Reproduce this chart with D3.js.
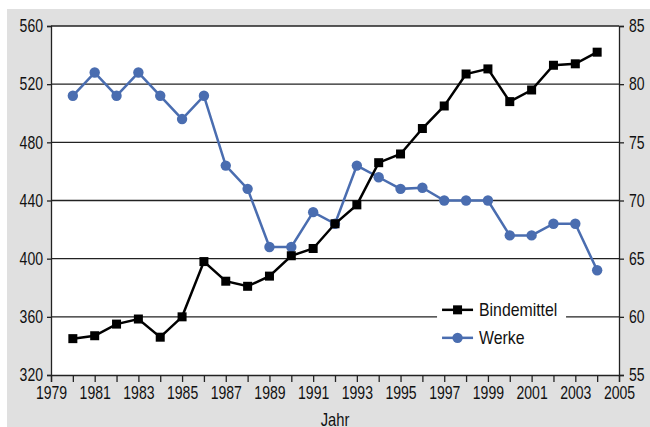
<!DOCTYPE html>
<html>
<head>
<meta charset="utf-8">
<script src="https://cdn.jsdelivr.net/npm/d3@7"></script>
<style>
  body { margin: 0; background: #fff; }
  svg { display: block; }
  svg text { font-family: "Liberation Sans", Arial, sans-serif; }
</style>
</head>
<body>
<div class="chart"></div>
<script>
// data
const years = d3.range(1980, 2005);
const bindemittel = [345, 347, 355, 358.5, 346, 360, 398, 384.5, 381, 388, 402, 407, 424, 437,
                     466, 472, 489.5, 505, 527, 530.5, 508, 516, 533, 534, 542];
const werke = [79, 81, 79, 81, 79, 77, 79, 73, 71, 66, 66, 69, 68, 73,
               72, 71, 71.1, 70, 70, 70, 67, 67, 68, 68, 64];
const leftTicks = [320, 360, 400, 440, 480, 520, 560];
const rightTicks = [55, 60, 65, 70, 75, 80, 85];
const xLabels = d3.range(1979, 2006, 2);

const W = 650, H = 427;
const margin = {top: 26, left: 51, right: 31, bottom: 52};
const width = W - margin.left - margin.right;
const height = H - margin.top - margin.bottom;

// narrow the text horizontally (condensed look)
function squeeze(sel, k) {
    sel.each(function() {
        const t = d3.select(this);
        const x0 = +t.attr('x') || 0;
        t.attr('x', x0 / k).attr('transform', `scale(${k},1)`);
    });
}

const svg = d3.select('.chart').append('svg')
    .attr('width', W)
    .attr('height', H);

// gray frame background
svg.append('rect')
    .attr('x', 7).attr('y', 9)
    .attr('width', W - 7).attr('height', H - 9)
    .attr('fill', '#e0e0e0');

const g = svg.append('g')
    .attr('transform', `translate(${margin.left},${margin.top})`);

g.append('rect')
    .attr('width', width).attr('height', height)
    .attr('fill', '#fff');

const x = d3.scaleLinear().domain([1979, 2005]).range([0, width]);
const yL = d3.scaleLinear().domain([320, 560]).range([height, 0]);
const yR = d3.scaleLinear().domain([55, 85]).range([height, 0]);

// gridlines
g.append('g')
    .selectAll('line')
    .data(leftTicks.slice(1))
    .join('line')
    .attr('x1', 0).attr('x2', width)
    .attr('y1', d => yL(d)).attr('y2', d => yL(d))
    .attr('stroke', '#222')
    .attr('stroke-width', 1.3);

// legend background (breaks the gridline)
const legend = g.append('g')
    .attr('transform', `translate(${x(1996.9)},${yL(371)})`);

legend.append('rect')
    .attr('x', -5).attr('y', -2)
    .attr('width', 129).attr('height', 52)
    .attr('fill', '#fff');

// axes
const fmt = d3.format('d');
function styleAxis(sel) {
    sel.attr('font-family', null);
    sel.selectAll('.domain').attr('stroke', '#222').attr('stroke-width', 1.3);
    sel.selectAll('.tick line').attr('stroke', '#222').attr('stroke-width', 1.3);
    sel.selectAll('.tick text').attr('fill', '#111').attr('font-size', 18)
        .call(squeeze, 0.78);
}

g.append('g')
    .attr('transform', `translate(0,${height})`)
    .call(d3.axisBottom(x).tickValues(d3.range(1979, 2006)).tickSizeOuter(0).tickSize(7).tickPadding(4)
        .tickFormat(d => xLabels.includes(d) ? fmt(d) : ''))
    .call(styleAxis);

g.append('g')
    .call(d3.axisLeft(yL).tickValues(leftTicks).tickSizeOuter(0).tickSize(4).tickPadding(4))
    .call(styleAxis);

g.append('g')
    .attr('transform', `translate(${width},0)`)
    .call(d3.axisRight(yR).tickValues(rightTicks).tickSizeOuter(0).tickSize(5).tickPadding(5))
    .call(styleAxis);

g.append('text')
    .attr('x', width / 2)
    .attr('y', height + 51)
    .attr('text-anchor', 'middle')
    .attr('font-size', 18)
    .attr('fill', '#111')
    .text('Jahr')
    .call(squeeze, 0.82);

const blue = '#4a6db0';

// Werke (right axis)
const lineW = d3.line().x((d, i) => x(years[i])).y(d => yR(d));
g.append('path')
    .datum(werke)
    .attr('fill', 'none')
    .attr('stroke', blue)
    .attr('stroke-width', 2.5)
    .attr('d', lineW);

g.append('g')
    .selectAll('circle')
    .data(werke)
    .join('circle')
    .attr('cx', (d, i) => x(years[i]))
    .attr('cy', d => yR(d))
    .attr('r', 5.2)
    .attr('fill', blue);

// Bindemittel (left axis)
const lineB = d3.line().x((d, i) => x(years[i])).y(d => yL(d));
g.append('path')
    .datum(bindemittel)
    .attr('fill', 'none')
    .attr('stroke', '#000')
    .attr('stroke-width', 2.5)
    .attr('d', lineB);

g.append('g')
    .selectAll('rect')
    .data(bindemittel)
    .join('rect')
    .attr('x', (d, i) => x(years[i]) - 4.5)
    .attr('y', d => yL(d) - 4.5)
    .attr('width', 9).attr('height', 9)
    .attr('fill', '#000');

// legend entries
const items = [
    {name: 'Bindemittel', color: '#000', shape: 'square'},
    {name: 'Werke', color: blue, shape: 'circle'}
];
const row = legend.selectAll('g.item')
    .data(items)
    .join('g')
    .attr('class', 'item')
    .attr('transform', (d, i) => `translate(0,${9 + i * 28})`);

row.append('line')
    .attr('x1', 0).attr('x2', 31)
    .attr('stroke', d => d.color)
    .attr('stroke-width', 2.5);

row.each(function(d) {
    const r = d3.select(this);
    if (d.shape === 'square') {
        r.append('rect').attr('x', 11).attr('y', -4.5).attr('width', 9).attr('height', 9).attr('fill', d.color);
    } else {
        r.append('circle').attr('cx', 15.5).attr('r', 5.2).attr('fill', d.color);
    }
});

row.append('text')
    .attr('x', 37)
    .attr('dy', '0.35em')
    .attr('font-size', 18)
    .attr('fill', '#111')
    .text(d => d.name)
    .call(squeeze, 0.88);
</script>
</body>
</html>
